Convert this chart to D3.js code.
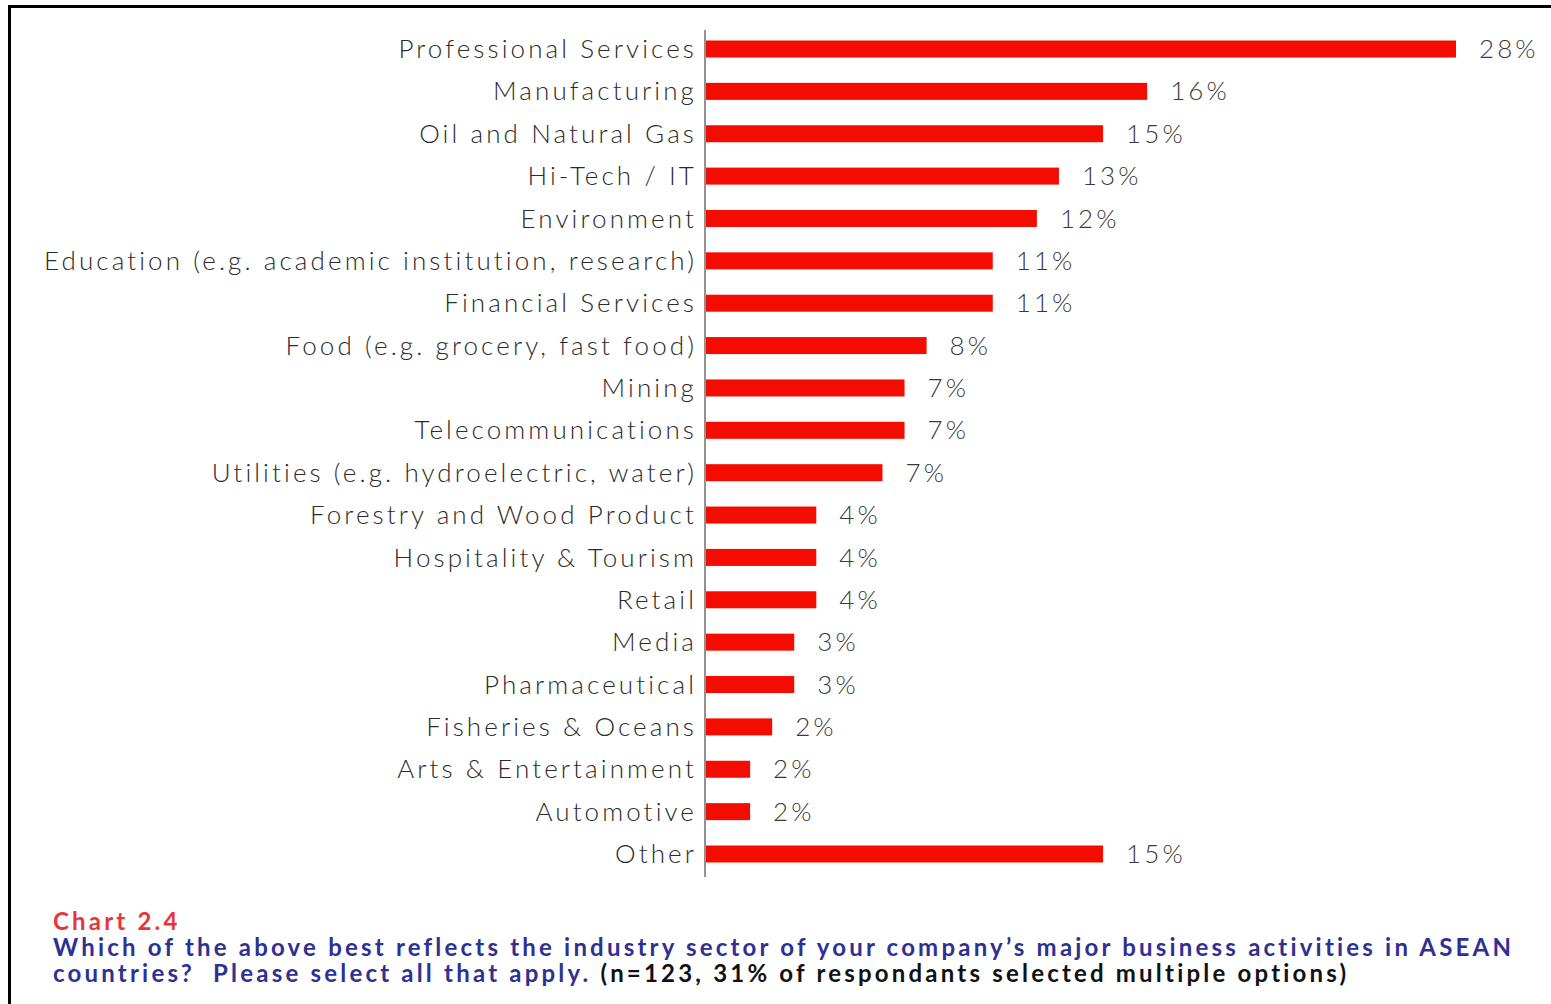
<!DOCTYPE html>
<html>
<head>
<meta charset="utf-8">
<script src="https://cdn.jsdelivr.net/npm/d3@7/dist/d3.min.js"></script>
<style>
  html, body { margin: 0; padding: 0; background: #fff; }
  svg { display: block; }
  .cat { font-family: Lato, "Open Sans", sans-serif; font-weight: 300; font-size: 26px; fill: #2b2b2b; letter-spacing: 3.1px; }
  .pct { font-family: Lato, "Open Sans", sans-serif; font-weight: 300; font-size: 26px; fill: #3a3a3a; letter-spacing: 3.1px; }
  .cap { font-family: Lato, "Open Sans", sans-serif; font-weight: 700; font-size: 24px; letter-spacing: 3.2px; }
</style>
</head>
<body>
<svg id="chart" width="1551" height="1004"></svg>
<script>
// ---- data ----
const categories = [
  "Professional Services",
  "Manufacturing",
  "Oil and Natural Gas",
  "Hi-Tech / IT",
  "Environment",
  "Education (e.g. academic institution, research)",
  "Financial Services",
  "Food (e.g. grocery, fast food)",
  "Mining",
  "Telecommunications",
  "Utilities (e.g. hydroelectric, water)",
  "Forestry and Wood Product",
  "Hospitality & Tourism",
  "Retail",
  "Media",
  "Pharmaceutical",
  "Fisheries & Oceans",
  "Arts & Entertainment",
  "Automotive",
  "Other"
];
// respondent counts (n = 123)
const counts = [34, 20, 18, 16, 15, 13, 13, 10, 9, 9, 8, 5, 5, 5, 4, 4, 3, 2, 2, 18];
const pctLabels = ["28%", "16%", "15%", "13%", "12%", "11%", "11%", "8%", "7%", "7%", "7%", "4%", "4%", "4%", "3%", "3%", "2%", "2%", "2%", "15%"];
const captionTitle = "Chart 2.4";
const captionLine1 = "Which of the above best reflects the industry sector of your company\u2019s major business activities in ASEAN";
const captionLine2a = "countries?  Please select all that apply. ";
const captionLine2b = "(n=123, 31% of respondants selected multiple options)";

const data = categories.map((c, i) => ({ cat: c, v: counts[i], label: pctLabels[i] }));

const svg = d3.select("#chart");

// frame
svg.append("path")
  .attr("d", "M9.5,1004 V6.5 H1551")
  .attr("fill", "none")
  .attr("stroke", "#000")
  .attr("stroke-width", 3);

const x = d3.scaleLinear().domain([0, 34]).range([706, 1456]);
const y = d3.scalePoint().domain(categories).range([49, 854]);
const barH = 17;

// axis line
svg.append("line")
  .attr("x1", 705).attr("x2", 705)
  .attr("y1", 30).attr("y2", 877)
  .attr("stroke", "#6e6e6e").attr("stroke-width", 1.5);

// bars
svg.selectAll("rect.bar").data(data).join("rect")
  .attr("class", "bar")
  .attr("x", x(0))
  .attr("y", d => y(d.cat) - barH / 2)
  .attr("width", d => x(d.v) - x(0))
  .attr("height", barH)
  .attr("fill", "#f50c00");

// category labels
svg.selectAll("text.cat").data(data).join("text")
  .attr("class", "cat")
  .attr("x", 697)
  .attr("y", d => y(d.cat))
  .attr("dy", "0.35em")
  .attr("text-anchor", "end")
  .text(d => d.cat);

// value labels
svg.selectAll("text.pct").data(data).join("text")
  .attr("class", "pct")
  .attr("x", d => x(d.v) + 23)
  .attr("y", d => y(d.cat))
  .attr("dy", "0.35em")
  .text(d => d.label);

// caption
svg.append("text").attr("class", "cap")
  .attr("x", 53).attr("y", 930)
  .attr("fill", "#e8353a")
  .text(captionTitle);
svg.append("text").attr("class", "cap")
  .attr("x", 53).attr("y", 956)
  .attr("fill", "#2e3192")
  .text(captionLine1);
const l2 = svg.append("text").attr("class", "cap")
  .attr("x", 53).attr("y", 982);
l2.append("tspan").attr("fill", "#2e3192").attr("xml:space", "preserve").text(captionLine2a);
l2.append("tspan").attr("fill", "#111").text(captionLine2b);
</script>
</body>
</html>
